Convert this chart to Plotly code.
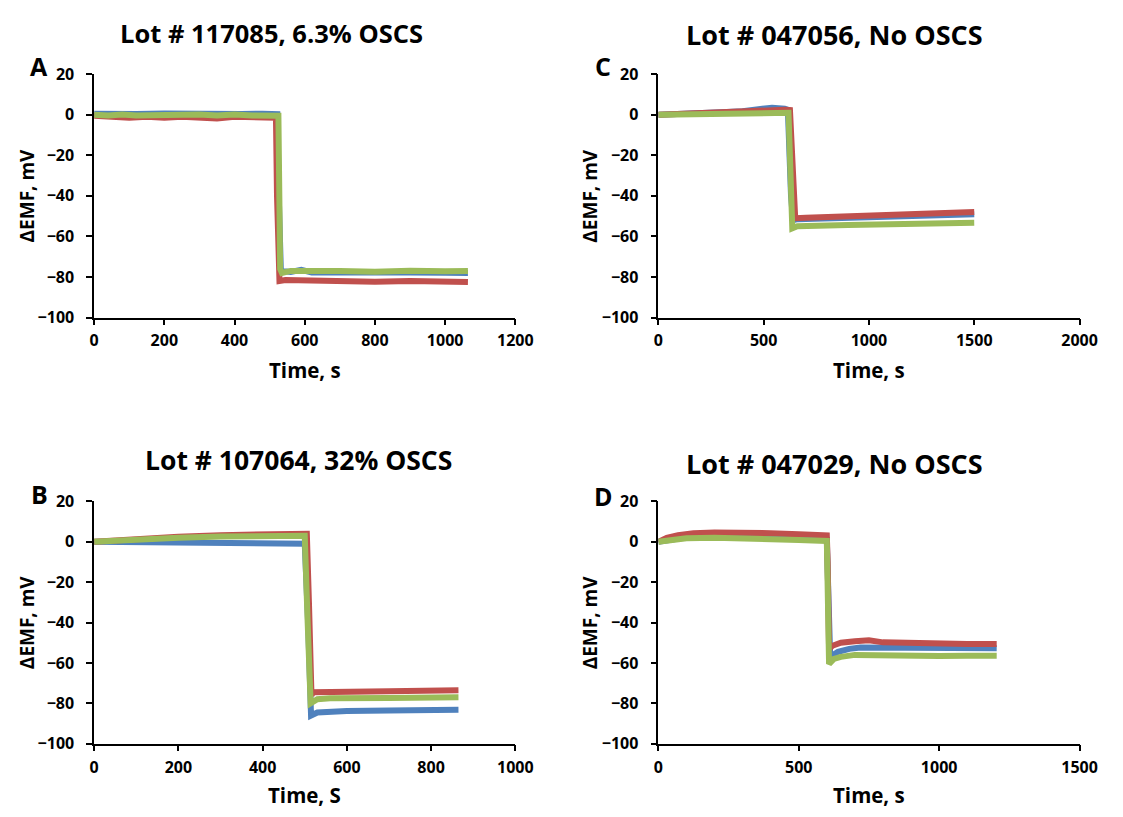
import plotly.graph_objects as go

W, H = 1123, 817

# ---------------- data ----------------
A_t_blue = [0, 60, 120, 200, 280, 350, 420, 480, 522, 526, 532, 560, 590, 620, 700, 800, 900, 1000, 1065]
A_blue = [0.5, 0.8, 0.4, 0.6, 0.3, 0.7, 0.4, 0.5, 0.3, -40, -77, -77.5, -76.5, -77.8, -78, -78, -77.8, -77.9, -78]
A_t_red = [0, 50, 100, 150, 200, 250, 300, 350, 400, 450, 500, 518, 521, 524, 528, 545, 600, 700, 800, 900, 1000, 1065]
A_red = [-0.5, -1, -1.5, -1, -1.5, -1, -1.2, -1.8, -1, -1.5, -2, -1.5, -40, -79, -82, -81.5, -81.8, -82, -82.3, -82, -82.2, -82.5]
A_t_green = [0, 40, 80, 120, 160, 200, 250, 300, 350, 400, 450, 500, 525, 530, 535, 560, 600, 700, 800, 900, 1000, 1065]
A_green = [0, -0.3, 0.2, -0.4, -0.2, 0, -0.3, 0.2, -0.4, 0.1, -0.3, -0.2, -0.5, -76, -78, -77, -77.2, -77, -77.4, -76.9, -77.2, -77]

B_t_blue = [0, 100, 200, 300, 400, 490, 500, 508, 515, 530, 560, 600, 700, 800, 865]
B_blue = [0, -0.3, -0.5, -0.7, -0.9, -1, -1, -40, -86, -84.5, -84, -83.8, -83.5, -83.3, -83.2]
B_t_red = [0, 100, 200, 300, 400, 500, 505, 510, 516, 520, 560, 700, 865]
B_red = [0, 1.5, 2.5, 3.3, 4, 4.6, 4, -30, -76, -74.5, -74.3, -74, -73.5]
B_t_green = [0, 100, 200, 300, 400, 495, 500, 507, 514, 530, 560, 700, 865]
B_green = [0, 1.2, 2, 2.6, 3.1, 3.5, 3, -40, -80, -78, -77.5, -77.3, -77]

C_t_blue = [0, 100, 200, 300, 400, 480, 540, 600, 615, 630, 640, 660, 800, 1000, 1200, 1500]
C_blue = [0, 0.2, 0.8, 1.2, 1.8, 3.2, 3.5, 3.0, 2.5, -40, -52, -51.5, -51, -50.5, -50, -49]
C_t_red = [0, 200, 400, 600, 625, 640, 650, 700, 900, 1100, 1300, 1500]
C_red = [0, 1, 1.8, 2.5, 2.3, -30, -51, -50.8, -50, -49.3, -48.7, -48]
C_t_green = [0, 200, 400, 610, 618, 628, 636, 660, 700, 900, 1100, 1300, 1500]
C_green = [0, 0.3, 0.7, 1.1, 1, -30, -56, -55, -54.8, -54.4, -54, -53.6, -53.2]

D_t_red = [0, 30, 70, 125, 200, 300, 400, 500, 560, 600, 603, 608, 620, 650, 700, 750, 800, 900, 1000, 1100, 1205]
D_red = [0, 2, 3.3, 4.2, 4.6, 4.7, 4.3, 3.8, 3.5, 3.2, -10, -53, -51.5, -50, -49.3, -48.8, -49.8, -50.2, -50.4, -50.6, -50.6]
D_t_blue = [0, 50, 100, 150, 300, 450, 600, 604, 612, 640, 680, 720, 800, 900, 1000, 1100, 1205]
D_blue = [0, 1.5, 2.3, 2.6, 2.5, 1.8, 1, -30, -57, -54.5, -53, -52.3, -52.3, -52.5, -52.6, -52.6, -52.7]
D_t_green = [0, 50, 100, 200, 300, 400, 500, 600, 604, 608, 625, 650, 700, 750, 800, 900, 1000, 1100, 1205]
D_green = [0, 1.2, 1.8, 2, 1.8, 1.4, 0.9, 0.4, -30, -60.5, -58, -57, -56, -56.2, -56.3, -56.5, -56.5, -56.4, -56.4]

panel_titles = ["Lot # 117085, 6.3% OSCS", "Lot # 107064, 32% OSCS",
                "Lot # 047056, No OSCS", "Lot # 047029, No OSCS"]
panel_letters = ["A", "B", "C", "D"]
x_titles = ["Time, s", "Time, S", "Time, s", "Time, s"]
y_title = "ΔEMF, mV"
x_ranges = [[0, 1200], [0, 1000], [0, 2000], [0, 1500]]
x_dticks = [200, 200, 500, 500]

BLUE, RED, GREEN = "#4F81BD", "#C0504D", "#9BBB59"
FONT = "Open Sans"

# ---------------- layout geometry (pixels) ----------------
def px(x):
    return x / W

def py(y):
    return 1 - y / H

plot_x = [(91, 521), (91, 521), (667, 1097), (667, 1097)]
plot_y = [(65, 315), (504, 753), (65, 315), (504, 753)]

panels = [
    [(A_t_blue, A_blue, BLUE), (A_t_red, A_red, RED), (A_t_green, A_green, GREEN)],
    [(B_t_blue, B_blue, BLUE), (B_t_red, B_red, RED), (B_t_green, B_green, GREEN)],
    [(C_t_blue, C_blue, BLUE), (C_t_red, C_red, RED), (C_t_green, C_green, GREEN)],
    [(D_t_blue, D_blue, BLUE), (D_t_red, D_red, RED), (D_t_green, D_green, GREEN)],
]

fig = go.Figure()
layout = dict(
    width=W, height=H, margin=dict(l=0, r=0, t=0, b=0),
    paper_bgcolor="white", plot_bgcolor="white", showlegend=False,
    font=dict(family=FONT, color="black"),
)

tickfont = dict(family=FONT, size=16, color="black", weight="bold")
ytitlefont = dict(family=FONT, size=19, color="black", weight="bold")
xtitlefont = dict(family=FONT, size=20.5, color="black", weight="bold")

annotations = []
title_cx = [272, 300, 847, 847]
title_cy = [23, 461, 24, 465]
title_size = [25.5, 26.5, 27, 27]
letter_xy = [(35, 57), (35, 496), (610, 57), (611, 498)]
ytitle_x = [22, 22, 597, 597]
xtitle_y = [369, 806, 369, 806]

for i in range(4):
    xa = "x" if i == 0 else f"x{i+1}"
    ya = "y" if i == 0 else f"y{i+1}"
    for t, v, c in panels[i]:
        fig.add_trace(go.Scatter(x=t, y=v, mode="lines", xaxis=xa, yaxis=ya,
                                 line=dict(color=c, width=6), hoverinfo="skip"))
    xk = "xaxis" if i == 0 else f"xaxis{i+1}"
    yk = "yaxis" if i == 0 else f"yaxis{i+1}"
    x0, x1 = plot_x[i]
    y0, y1 = plot_y[i]
    layout[xk] = dict(
        domain=[px(x0), px(x1)], anchor=ya, range=x_ranges[i], dtick=x_dticks[i], tick0=0,
        showgrid=False, zeroline=False, showline=True, linecolor="black", linewidth=1.5,
        ticks="outside", ticklen=6, tickwidth=1.5, tickcolor="black",
        tickfont=tickfont, fixedrange=True, ticklabelstandoff=2,
    )
    layout[yk] = dict(
        domain=[py(y1), py(y0)], anchor=xa, range=[-100, 20], dtick=20, tick0=0,
        showgrid=False, zeroline=False, showline=True, linecolor="black", linewidth=1.5,
        ticks="outside", ticklen=6, tickwidth=1.5, tickcolor="black",
        tickfont=tickfont, fixedrange=True, ticklabelstandoff=9,
    )
    annotations.append(dict(text=panel_titles[i], x=px(title_cx[i]), y=py(title_cy[i]),
                            xref="paper", yref="paper", xanchor="center", yanchor="middle",
                            showarrow=False,
                            font=dict(family=FONT, size=title_size[i], color="black", weight="bold")))
    lx, ly = letter_xy[i]
    annotations.append(dict(text=panel_letters[i], x=px(lx), y=py(ly),
                            xref="paper", yref="paper", xanchor="center", yanchor="middle",
                            showarrow=False, font=dict(family=FONT, size=25, color="black", weight="bold")))
    annotations.append(dict(text=y_title, x=px(ytitle_x[i]), y=py((y0 + y1) / 2),
                            xref="paper", yref="paper", xanchor="center", yanchor="middle",
                            textangle=-90, showarrow=False, font=ytitlefont))
    annotations.append(dict(text=x_titles[i], x=px((x0 + x1) / 2), y=py(xtitle_y[i]),
                            xref="paper", yref="paper", xanchor="center", yanchor="middle",
                            showarrow=False, font=xtitlefont))

layout["annotations"] = annotations
fig.update_layout(**layout)
fig.write_html("out.html",
               post_script="document.body.style.margin='0';document.body.style.overflow='hidden';")
